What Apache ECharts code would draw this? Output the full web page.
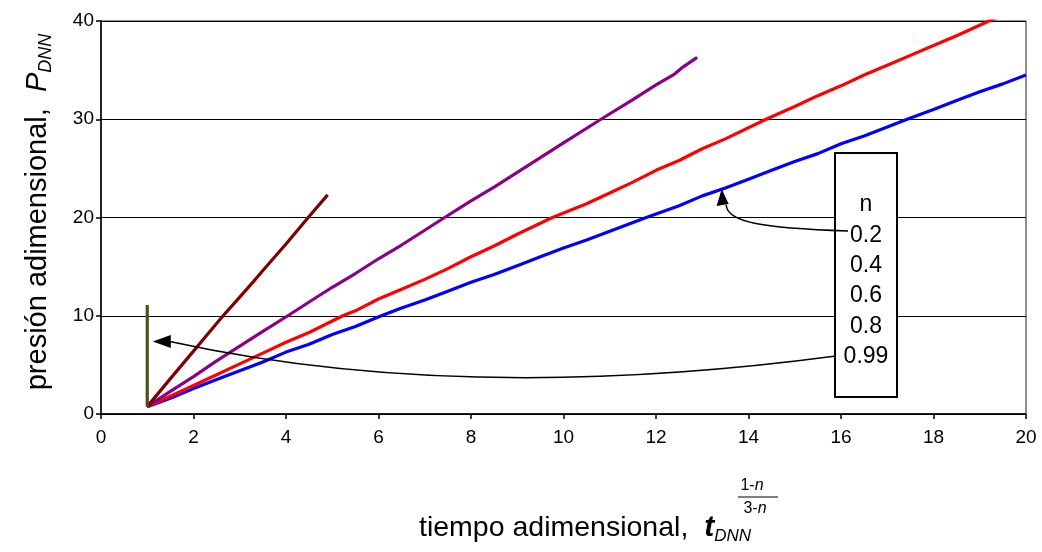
<!DOCTYPE html>
<html>
<head>
<meta charset="utf-8">
<title>Presión adimensional vs tiempo adimensional</title>
<script src="https://cdn.jsdelivr.net/npm/echarts@6/dist/echarts.min.js"></script>
<style>
  html, body { margin: 0; padding: 0; background: #fff; }
  #chart { width: 1042px; height: 552px; }
</style>
</head>
<body>
<div id="chart"></div>
<script>
// Flow-behaviour indices, one curve each
const nValues = ['0.2', '0.4', '0.6', '0.8', '0.99'];
const seriesColors = ['#0000ff', '#ff0000', '#8b008b', '#800000', '#4f4f1c'];

// Axis ticks
const xTicks = { min: 0, max: 20, interval: 2 };
const yTicks = { min: 0, max: 40, interval: 10 };

// [t_DNN^((1-n)/(3-n)), P_DNN] for each n
const curveN02 = [
  [1, 0.75], [1.5, 1.6], [2, 2.6], [2.5, 3.5], [3, 4.4], [3.5, 5.3], [4, 6.3], [4.5, 7.1],
  [5, 8.1], [5.5, 8.9], [6.06, 10], [6.5, 10.8], [7, 11.6], [7.5, 12.5], [8, 13.4],
  [8.5, 14.2], [9, 15.1], [9.5, 16.0], [10, 16.9], [10.5, 17.7], [11, 18.6], [11.79, 20],
  [12.5, 21.2], [13, 22.2], [13.5, 23.0], [14, 23.9], [14.5, 24.8], [15, 25.7], [15.5, 26.5],
  [16, 27.5], [16.5, 28.3], [17, 29.2], [17.43, 30], [18, 31.0], [18.5, 31.9], [19, 32.8],
  [19.5, 33.6], [20, 34.5]
];
const curveN04 = [
  [1, 0.75], [1.5, 1.8], [2, 2.9], [2.5, 4.0], [3, 5.1], [3.5, 6.2], [4, 7.3], [4.5, 8.3],
  [5.23, 10], [5.5, 10.5], [6, 11.7], [6.5, 12.7], [7, 13.7], [7.5, 14.8], [8, 16.0],
  [8.5, 17.1], [9, 18.3], [9.76, 20], [10.5, 21.4], [11, 22.5], [11.5, 23.6], [12, 24.8],
  [12.5, 25.8], [13, 27.0], [13.5, 28.0], [14.38, 30], [15, 31.3], [15.5, 32.4], [16, 33.4],
  [16.5, 34.5], [17, 35.5], [17.5, 36.5], [18, 37.5], [18.5, 38.5], [19.2, 40], [19.5, 40.6]
];
const curveN06 = [
  [1, 0.75], [1.5, 2.3], [2, 3.8], [2.5, 5.4], [3, 6.9], [3.5, 8.4], [4.04, 10], [4.5, 11.4],
  [5, 12.9], [5.5, 14.3], [6, 15.8], [6.5, 17.2], [7, 18.7], [7.43, 20], [8, 21.7],
  [8.5, 23.1], [9, 24.6], [9.5, 26.1], [10, 27.6], [10.81, 30], [11.5, 32.0], [12, 33.5],
  [12.4, 34.6], [12.55, 35.2], [12.89, 36.3]
];
const curveN08 = [
  [1, 0.75], [1.5, 3.6], [2, 6.4], [2.3, 8.1], [2.64, 10], [3, 11.9], [3.3, 13.5],
  [3.5, 14.6], [4, 17.3], [4.48, 20], [4.9, 22.3]
];
const curveN099 = [
  [1, 0.75], [1, 3], [1, 6], [1, 9], [1, 11.1]
];
const curves = [curveN02, curveN04, curveN06, curveN08, curveN099];

// Points on the curves that the callout arrows touch
const calloutTargets = [[13.42, 22.9], [1.12, 7.38]];

const FONT = '"Liberation Sans", Arial, sans-serif';

const chart = echarts.init(document.getElementById('chart'), null, { renderer: 'canvas' });

const grid = { left: 101, top: 21, right: 16, bottom: 138 };

const option = {
  backgroundColor: '#ffffff',
  animation: false,
  textStyle: { fontFamily: FONT, color: '#000' },
  grid: Object.assign({ show: true, borderColor: '#222', borderWidth: 1, containLabel: false }, grid),
  xAxis: {
    type: 'value',
    min: xTicks.min, max: xTicks.max, interval: xTicks.interval,
    axisLine: { show: true, onZero: false, lineStyle: { color: '#000', width: 1.5 } },
    axisTick: { show: true, length: 5, lineStyle: { color: '#000', width: 1.5 } },
    axisLabel: { color: '#000', fontSize: 19, fontFamily: FONT, margin: 14 },
    splitLine: { show: false }
  },
  yAxis: {
    type: 'value',
    min: yTicks.min, max: yTicks.max, interval: yTicks.interval,
    axisLine: { show: true, onZero: false, lineStyle: { color: '#000', width: 1.5 } },
    axisTick: { show: true, length: 5, lineStyle: { color: '#000', width: 1.5 } },
    axisLabel: { color: '#000', fontSize: 19, fontFamily: FONT, margin: 7 },
    splitLine: { show: true, lineStyle: { color: '#000', width: 1.2 } }
  },
  series: curves.map((data, i) => ({
    name: 'n = ' + nValues[i],
    type: 'line',
    data: data,
    showSymbol: false,
    symbol: 'none',
    smooth: false,
    clip: true,
    z: 3 + i,
    lineStyle: { color: seriesColors[i], width: 3.2 }
  }))
};

chart.setOption(option);

// Axis titles, the n box and its callout arrows
function buildGraphics() {
  const elems = [];

  // y-axis title: presión adimensional, P_DNN
  elems.push({
    type: 'text',
    x: 38, y: 212,
    rotation: Math.PI / 2,
    style: {
      text: '{a|presión adimensional,  }{p|P}{s|DNN}',
      align: 'center', verticalAlign: 'middle',
      rich: {
        a: { fontFamily: FONT, fontSize: 29, color: '#000', lineHeight: 34, verticalAlign: 'middle' },
        p: { fontFamily: FONT, fontSize: 29, fontStyle: 'italic', color: '#000', lineHeight: 34, verticalAlign: 'middle' },
        s: { fontFamily: FONT, fontSize: 18, fontStyle: 'italic', color: '#000', lineHeight: 15, verticalAlign: 'bottom' }
      }
    }
  });

  // x-axis title: tiempo adimensional, t_DNN^((1-n)/(3-n))
  elems.push({
    type: 'text',
    x: 419, y: 528,
    style: {
      text: '{a|tiempo adimensional,  }{t|t}{s|DNN}',
      align: 'left', verticalAlign: 'middle',
      rich: {
        a: { fontFamily: FONT, fontSize: 28.5, color: '#000', lineHeight: 34, verticalAlign: 'middle' },
        t: { fontFamily: FONT, fontSize: 30, fontStyle: 'italic', fontWeight: 'bold', color: '#000', lineHeight: 34, verticalAlign: 'middle' },
        s: { fontFamily: FONT, fontSize: 17, fontStyle: 'italic', color: '#000', lineHeight: 15, verticalAlign: 'bottom' }
      }
    }
  });
  // exponent as a stacked fraction
  elems.push({
    type: 'text', x: 752, y: 486,
    style: {
      text: '{a|1-}{b|n}', align: 'center', verticalAlign: 'middle',
      rich: {
        a: { fontFamily: FONT, fontSize: 16, color: '#000' },
        b: { fontFamily: FONT, fontSize: 16, fontStyle: 'italic', color: '#000' }
      }
    }
  });
  elems.push({
    type: 'line',
    shape: { x1: 738, y1: 497, x2: 778, y2: 497 },
    style: { stroke: '#000', lineWidth: 1.2 }
  });
  elems.push({
    type: 'text', x: 755, y: 509,
    style: {
      text: '{a|3-}{b|n}', align: 'center', verticalAlign: 'middle',
      rich: {
        a: { fontFamily: FONT, fontSize: 16, color: '#000' },
        b: { fontFamily: FONT, fontSize: 16, fontStyle: 'italic', color: '#000' }
      }
    }
  });

  // box listing n values
  const box = { x: 835, y: 153, width: 62, height: 244 };
  elems.push({
    type: 'rect',
    shape: box,
    style: { fill: '#fff', stroke: '#000', lineWidth: 2 },
    z: 10
  });
  const rowY = [205, 236, 266, 296, 327, 357];
  ['n'].concat(nValues).forEach((label, i) => {
    elems.push({
      type: 'text',
      x: box.x + box.width / 2, y: rowY[i],
      style: {
        text: label, align: 'center', verticalAlign: 'middle',
        fontFamily: FONT, fontSize: 23, fill: '#000'
      },
      z: 11
    });
  });

  // callout arrows from n=0.2 and n=0.99 labels to their curves
  const tip1 = chart.convertToPixel({ gridIndex: 0 }, calloutTargets[0]);
  const tip2 = chart.convertToPixel({ gridIndex: 0 }, calloutTargets[1]);

  const base1 = [tip1[0] + 4.5, tip1[1] + 16];
  elems.push({
    type: 'bezierCurve',
    shape: {
      x1: base1[0], y1: base1[1],
      cpx1: base1[0] + 1, cpy1: base1[1] + 17,
      cpx2: 760, cpy2: 228,
      x2: 848, y2: 231
    },
    style: { stroke: '#000', lineWidth: 1.5, fill: null },
    z: 12
  });
  elems.push({
    type: 'polygon',
    shape: { points: [[tip1[0], tip1[1]], [tip1[0] - 5, tip1[1] + 17], [tip1[0] + 7, tip1[1] + 15]] },
    style: { fill: '#000' },
    z: 12
  });

  const base2 = [tip2[0] + 17, tip2[1]];
  elems.push({
    type: 'bezierCurve',
    shape: {
      x1: base2[0], y1: base2[1],
      cpx1: 400, cpy1: 392,
      cpx2: 640, cpy2: 382,
      x2: 836, y2: 356
    },
    style: { stroke: '#000', lineWidth: 1.5, fill: null },
    z: 12
  });
  elems.push({
    type: 'polygon',
    shape: { points: [[tip2[0], tip2[1]], [tip2[0] + 18, tip2[1] - 6.5], [tip2[0] + 18, tip2[1] + 6.5]] },
    style: { fill: '#000' },
    z: 12
  });

  return elems;
}

chart.setOption({ graphic: { elements: buildGraphics() } });
</script>
</body>
</html>
